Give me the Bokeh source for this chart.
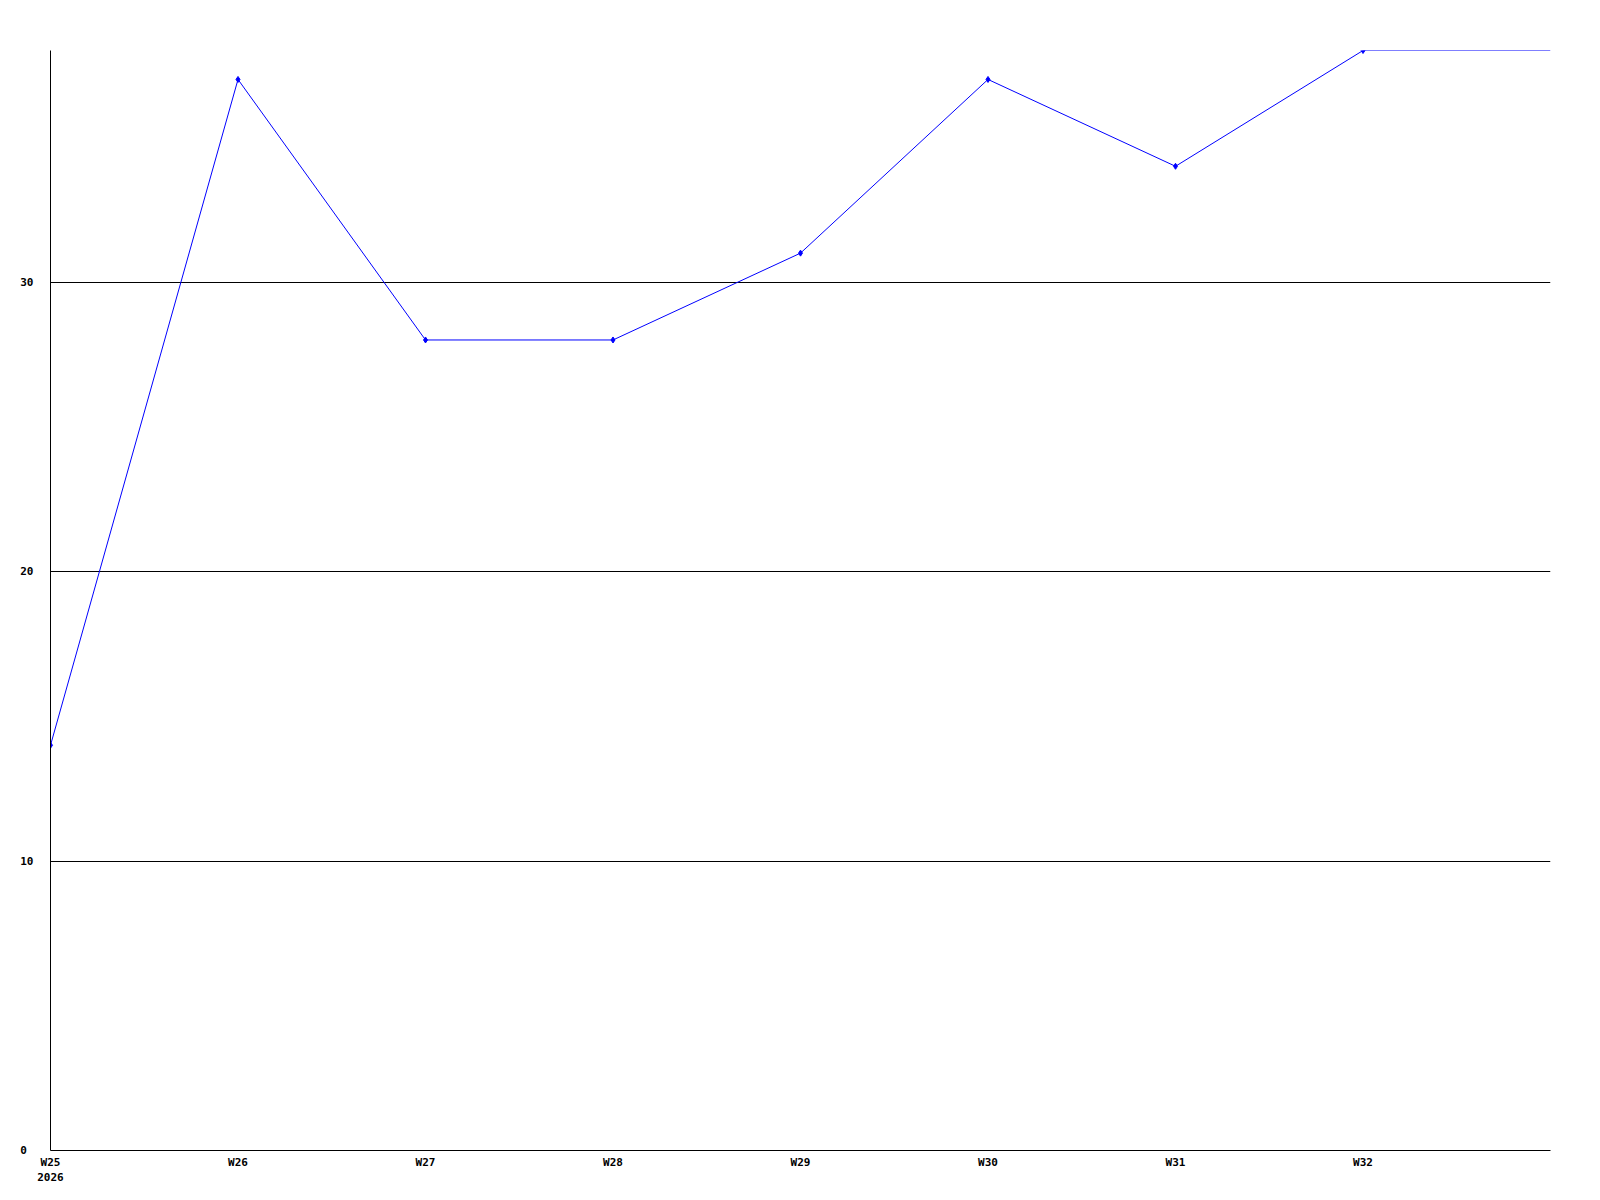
from bokeh.plotting import figure
from bokeh.models import FixedTicker, Range1d
from bokeh.embed import file_html
from bokeh.resources import INLINE

weeks = ["W25", "W26", "W27", "W28", "W29", "W30", "W31", "W32"]
year_label = "2026"
values = [14, 37, 28, 28, 31, 37, 34, 38]
# line continues flat to the right edge of the plot at the last value
end_value = 38
y_ticks = [0, 10, 20, 30]

idx = list(range(len(weeks)))
line_x = idx + [len(weeks)]
line_y = values + [end_value]

FONT = "DejaVu Sans Mono"

p = figure(width=1592, height=1192, output_backend="svg", toolbar_location=None,
           x_range=Range1d(0, len(weeks)), y_range=Range1d(0, 38),
           min_border_left=50, min_border_top=50, min_border_right=42, min_border_bottom=42)
p.outline_line_color = None
p.background_fill_color = "white"
p.border_fill_color = "white"

p.line(line_x, line_y, line_color="#0000ff", line_width=1)
p.scatter(idx, values, marker="diamond", size=6, color="#0000ff")

p.xgrid.grid_line_color = None
p.ygrid.grid_line_color = "black"
p.ygrid.grid_line_width = 1
p.ygrid.ticker = FixedTicker(ticks=[t for t in y_ticks if t > 0])

xa = p.xaxis[0]
xa.ticker = FixedTicker(ticks=idx)
labels = {i: w for i, w in enumerate(weeks)}
labels[0] = weeks[0] + "\n" + year_label
xa.major_label_overrides = labels
xa.major_tick_out = 0
xa.major_tick_in = 0
xa.minor_tick_out = 0
xa.minor_tick_in = 0
xa.major_label_standoff = 5
xa.axis_line_color = "black"
xa.axis_line_width = 1
xa.major_label_text_font = FONT
xa.major_label_text_font_style = "bold"
xa.major_label_text_font_size = "11px"
xa.major_label_text_color = "black"

ya = p.yaxis[0]
ya.ticker = FixedTicker(ticks=y_ticks)
ya.major_label_overrides = {t: (str(t) + "\u00a0" * (2 - len(str(t)))) for t in y_ticks}
ya.major_tick_out = 0
ya.major_tick_in = 0
ya.minor_tick_out = 0
ya.minor_tick_in = 0
ya.major_label_standoff = 17
ya.axis_line_color = "black"
ya.axis_line_width = 1
ya.major_label_text_font = FONT
ya.major_label_text_font_style = "bold"
ya.major_label_text_font_size = "11px"
ya.major_label_text_color = "black"

open("out.html", "w").write(file_html(p, INLINE))
